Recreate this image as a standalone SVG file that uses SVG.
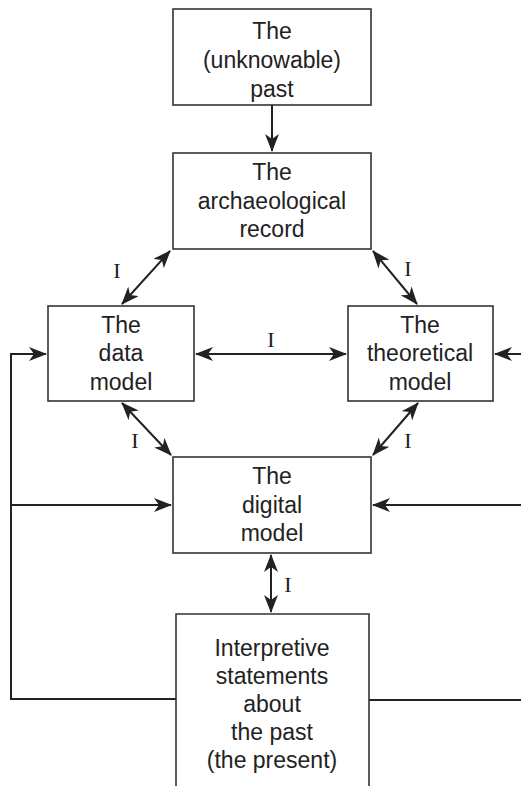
<svg xmlns="http://www.w3.org/2000/svg" width="521" height="786" viewBox="0 0 521 786">
<style>
.box{fill:#fff;stroke:#333;stroke-width:1.6}
.t{font-family:"Liberation Sans",Arial,sans-serif;font-size:23px;fill:#222;text-anchor:middle}
.i{font-family:"Liberation Serif","Times New Roman",serif;font-size:22px;fill:#222;text-anchor:middle}
.c{fill:none;stroke:#222;stroke-width:2}
</style>
<defs>
<marker id="a" markerUnits="userSpaceOnUse" markerWidth="18" markerHeight="14" refX="17" refY="7" orient="auto-start-reverse" viewBox="0 0 18 14">
<path d="M0,0 L18,7 L0,14 L5,7 z" fill="#222"/>
</marker>
</defs>
<g id="connectors">
<line class="c" x1="272" y1="105" x2="272" y2="151" marker-end="url(#a)"/>
<line class="c" x1="170" y1="251" x2="122" y2="304" marker-start="url(#a)" marker-end="url(#a)"/>
<line class="c" x1="373" y1="251" x2="417" y2="304" marker-start="url(#a)" marker-end="url(#a)"/>
<line class="c" x1="196" y1="354" x2="346" y2="354" marker-start="url(#a)" marker-end="url(#a)"/>
<line class="c" x1="122" y1="403" x2="171" y2="455" marker-start="url(#a)" marker-end="url(#a)"/>
<line class="c" x1="418" y1="403" x2="373" y2="455" marker-start="url(#a)" marker-end="url(#a)"/>
<line class="c" x1="271" y1="555" x2="271" y2="612" marker-start="url(#a)" marker-end="url(#a)"/>
<polyline class="c" points="176,699 11,699 11,354 46,354" marker-end="url(#a)"/>
<line class="c" x1="11" y1="505" x2="171" y2="505" marker-end="url(#a)"/>
<line class="c" x1="521" y1="354" x2="495" y2="354" marker-end="url(#a)"/>
<line class="c" x1="521" y1="505" x2="373" y2="505" marker-end="url(#a)"/>
<line class="c" x1="369" y1="700" x2="521" y2="700"/>
<text class="i" x="117" y="278">I</text>
<text class="i" x="408" y="276">I</text>
<text class="i" x="271" y="347">I</text>
<text class="i" x="135" y="448">I</text>
<text class="i" x="408" y="448">I</text>
<text class="i" x="288" y="592">I</text>
</g>
<g id="past">
<rect class="box" x="173" y="9" width="198" height="96"/>
<text class="t" x="272" y="39">The</text>
<text class="t" x="272" y="68">(unknowable)</text>
<text class="t" x="272" y="97">past</text>
</g>
<g id="record">
<rect class="box" x="173" y="153" width="198" height="96"/>
<text class="t" x="272" y="180">The</text>
<text class="t" x="272" y="209">archaeological</text>
<text class="t" x="272" y="237">record</text>
</g>
<g id="data">
<rect class="box" x="48" y="306" width="146" height="95"/>
<text class="t" x="121" y="333">The</text>
<text class="t" x="121" y="361">data</text>
<text class="t" x="121" y="390">model</text>
</g>
<g id="theoretical">
<rect class="box" x="348" y="306" width="145" height="95"/>
<text class="t" x="420" y="333">The</text>
<text class="t" x="420" y="361">theoretical</text>
<text class="t" x="420" y="390">model</text>
</g>
<g id="digital">
<rect class="box" x="173" y="457" width="198" height="96"/>
<text class="t" x="272" y="484">The</text>
<text class="t" x="272" y="513">digital</text>
<text class="t" x="272" y="541">model</text>
</g>
<g id="interpretive">
<path class="box" d="M176,790 L176,614 L369,614 L369,790"/>
<text class="t" x="272" y="656">Interpretive</text>
<text class="t" x="272" y="684">statements</text>
<text class="t" x="272" y="712">about</text>
<text class="t" x="272" y="740">the past</text>
<text class="t" x="272" y="768">(the present)</text>
</g>
</svg>
